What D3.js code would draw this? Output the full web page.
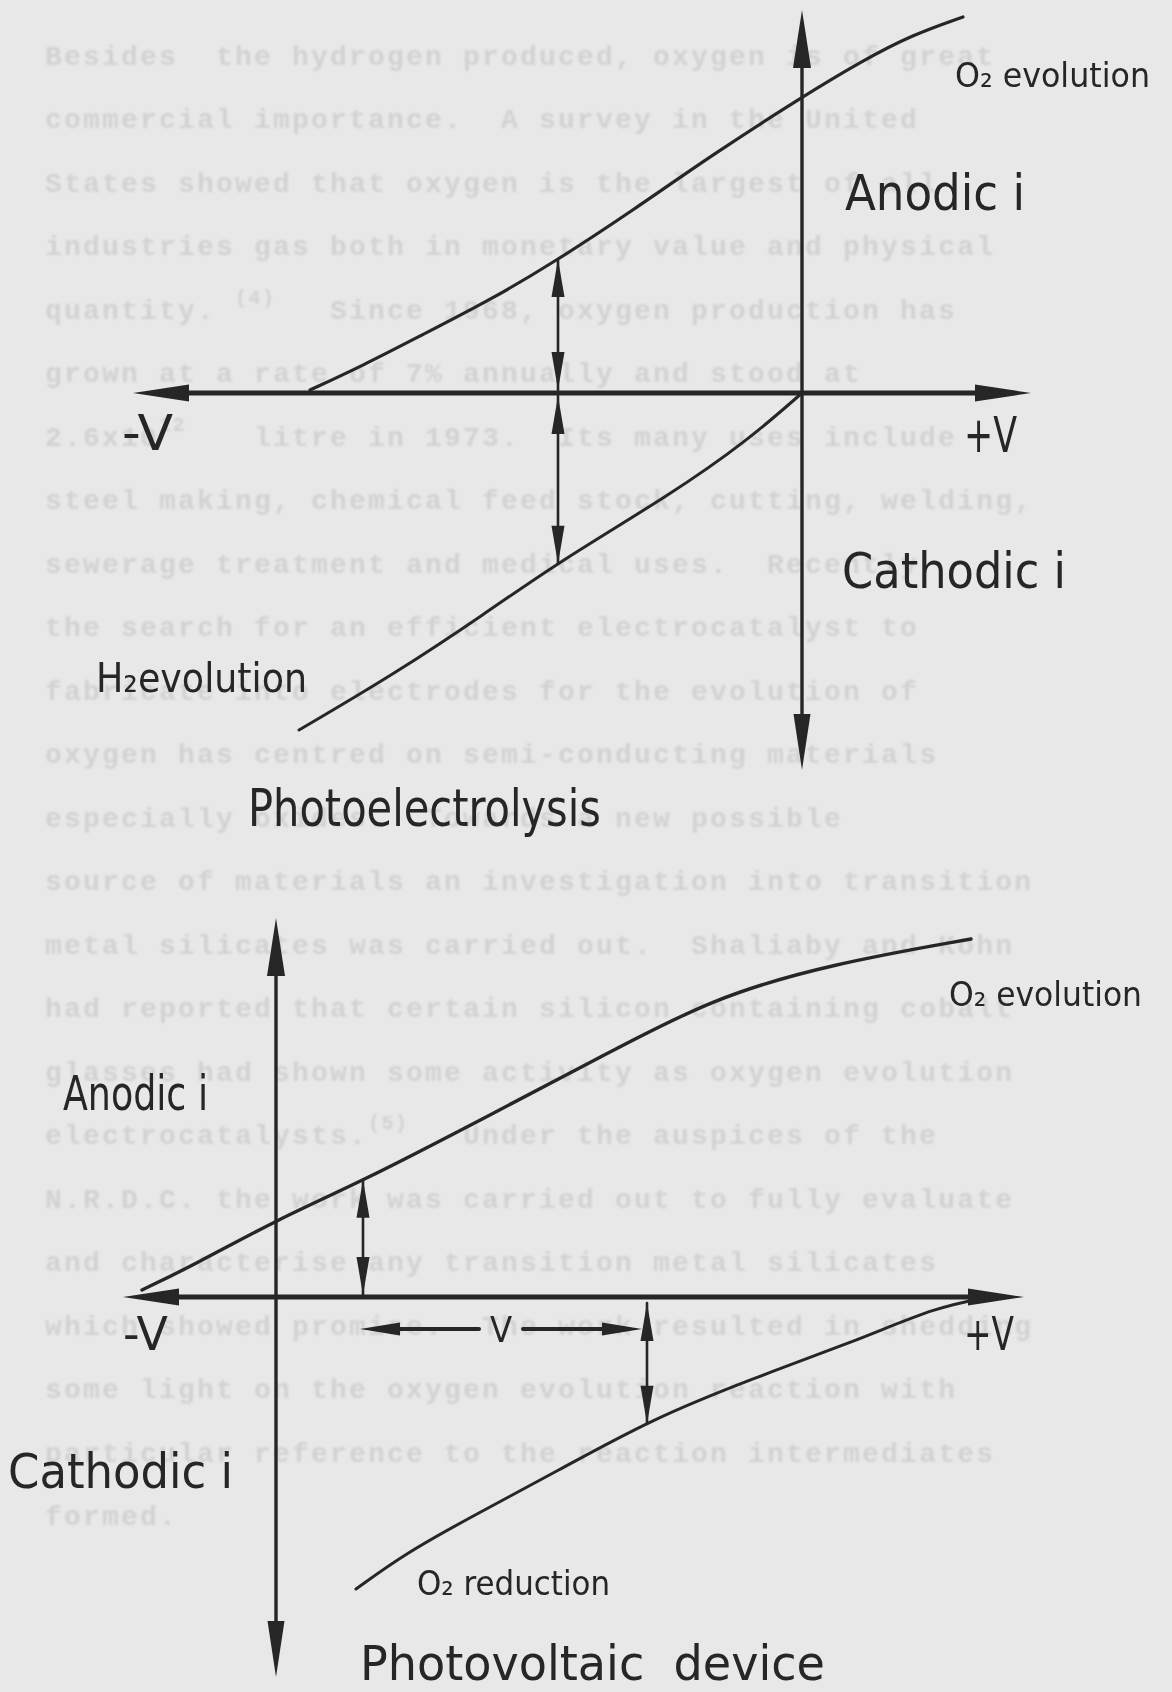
<!DOCTYPE html>
<html><head><meta charset="utf-8">
<script src="https://cdn.jsdelivr.net/npm/d3@7"></script>
<style>
html,body{margin:0;padding:0;background:#e8e8e8;}
svg{display:block;}
</style></head><body>
<svg id="page" width="1172" height="1692"></svg>
<script>
// Schematic current–potential sketches: photoelectrolysis (upper) and a
// photovoltaic device (lower). Potential V and current i in arbitrary units,
// origin where the axes cross.

// Upper sketch: anodic (O2 evolution) and cathodic (H2 evolution) branches
const upperAnodicV   = [-4.92, -4.40, -3.80, -3.10, -2.46, -1.70, -0.90, 0, 0.60, 1.10, 1.61];
const upperAnodicI   = [0.03, 0.27, 0.58, 0.94, 1.32, 1.82, 2.38, 2.96, 3.32, 3.58, 3.76];
const upperCathodicV = [0, -0.55, -1.29, -2.45, -3.16, -4.06, -5.03];
const upperCathodicI = [0, -0.48, -1.00, -1.70, -2.20, -2.80, -3.37];
const upperGapV = -2.44;
const upperVRange = [-6.69, 2.29];
const upperIRange = [-3.77, 3.83];

// Lower sketch: anodic (O2 evolution) and cathodic (O2 reduction) branches
const lowerAnodicV   = [-1.34, -0.82, 0.02, 0.89, 2.10, 3.23, 4.36, 5.55, 6.95];
const lowerAnodicI   = [0.07, 0.32, 0.78, 1.17, 1.80, 2.39, 2.99, 3.33, 3.58];
const lowerCathodicV = [7.14, 6.60, 5.85, 4.75, 3.74, 2.85, 1.95, 1.30, 0.80];
const lowerCathodicI = [0, -0.10, -0.42, -0.82, -1.23, -1.72, -2.20, -2.56, -2.92];
const lowerAnodicGapV = 0.87;
const lowerCathodicGapV = 3.71;
const lowerVArrowI = -0.32;
const lowerVRange = [-1.53, 7.48];
const lowerIRange = [-3.80, 3.79];

// Typescript of the page beneath the sketches; {..} marks a superscript
const typeLines = [
  "Besides  the hydrogen produced, oxygen is of great",
  "commercial importance.  A survey in the United",
  "States showed that oxygen is the largest of all",
  "industries gas both in monetary value and physical",
  "quantity. {(4)}  Since 1968, oxygen production has",
  "grown at a rate of 7% annually and stood at",
  "2.6x10{12}   litre in 1973.  Its many uses include",
  "steel making, chemical feed stock, cutting, welding,",
  "sewerage treatment and medical uses.  Recently",
  "the search for an efficient electrocatalyst to",
  "fabricate into electrodes for the evolution of",
  "oxygen has centred on semi-conducting materials",
  "especially oxides.  Towards a new possible",
  "source of materials an investigation into transition",
  "metal silicates was carried out.  Shaliaby and Kohn",
  "had reported that certain silicon containing cobalt",
  "glasses had shown some activity as oxygen evolution",
  "electrocatalysts.{(5)}  Under the auspices of the",
  "N.R.D.C. the work was carried out to fully evaluate",
  "and characterise any transition metal silicates",
  "which showed promise.  The work resulted in shedding",
  "some light on the oxygen evolution reaction with",
  "particular reference to the reaction intermediates",
  "formed."
];

const ink = "#262626";
const svg = d3.select("#page");
const W = 1172, H = 1692;

svg.append("rect").attr("width", W).attr("height", H).attr("fill", "#e8e8e8");

const defs = svg.append("defs");
defs.append("filter").attr("id", "soft")
  .append("feGaussianBlur").attr("stdDeviation", 0.8);
defs.append("filter").attr("id", "inkSoft")
  .append("feGaussianBlur").attr("stdDeviation", 0.35);

// ---- faint typescript (fixed pitch) ----
const pitch = 19, left0 = 45;
const typeG = svg.append("g").attr("filter", "url(#soft)")
  .attr("font-family", "'Liberation Mono','DejaVu Sans Mono',monospace")
  .attr("font-weight", "bold")
  .attr("fill", "#d2d2d2");
const lineY = d3.scaleLinear().domain([0, typeLines.length - 1]).range([65, 1525]);
typeLines.forEach((ln, k) => {
  const parts = ln.split(/(\{[^}]*\})/).filter(s => s.length);
  let col = 0;
  parts.forEach(p => {
    const sup = p.startsWith("{");
    const s = sup ? p.slice(1, -1) : p;
    typeG.append("text")
      .attr("x", left0 + col * pitch)
      .attr("y", lineY(k) - (sup ? 15 : 0))
      .attr("font-size", sup ? 20 : 28)
      .attr("letter-spacing", sup ? 1.5 : 2.2)
      .attr("xml:space", "preserve")
      .text(s);
    col += s.length;
  });
});

// ---- helpers ----
function arrowHead(g, x, y, angle, len, half) {
  const bx = x - Math.cos(angle) * len, by = y - Math.sin(angle) * len;
  const px = -Math.sin(angle) * half, py = Math.cos(angle) * half;
  g.append("path")
    .attr("d", `M${x},${y}L${bx + px},${by + py}L${bx - px},${by - py}Z`)
    .attr("fill", ink);
}
function segment(g, x1, y1, x2, y2, w) {
  g.append("line").attr("x1", x1).attr("y1", y1).attr("x2", x2).attr("y2", y2)
    .attr("stroke", ink).attr("stroke-width", w).attr("stroke-linecap", "round");
}
// double-headed marker between two current levels at one potential
function gapArrow(g, x, yA, yB) {
  segment(g, x, yA, x, yB, 2.6);
  const dir = yB > yA ? 1 : -1;
  arrowHead(g, x, yA, dir > 0 ? -Math.PI / 2 : Math.PI / 2, 38, 6.5);
  arrowHead(g, x, yB, dir > 0 ? Math.PI / 2 : -Math.PI / 2, 38, 6.5);
}
// current on a drawn branch at potential v, read from the rendered path
function currentAt(path, x, v) {
  const node = path.node(), total = node.getTotalLength();
  const px = x(v);
  let lo = 0, hi = total;
  const p0 = node.getPointAtLength(0), p1 = node.getPointAtLength(total);
  const inc = p1.x > p0.x;
  for (let k = 0; k < 40; k++) {
    const mid = (lo + hi) / 2, p = node.getPointAtLength(mid);
    if ((p.x < px) === inc) lo = mid; else hi = mid;
  }
  return node.getPointAtLength((lo + hi) / 2).y;
}
function axes(g, x, y, vRange, iRange) {
  const x0 = x(0), y0 = y(0);
  // potential axis
  segment(g, x(vRange[0]) + 40, y0, x(vRange[1]) - 40, y0, 5);
  arrowHead(g, x(vRange[0]), y0, Math.PI, 56, 8.5);
  arrowHead(g, x(vRange[1]), y0, 0, 56, 8.5);
  // current axis
  segment(g, x0, y(iRange[1]) + 40, x0, y(iRange[0]) - 40, 3.4);
  arrowHead(g, x0, y(iRange[1]), -Math.PI / 2, 58, 9);
  arrowHead(g, x0, y(iRange[0]), Math.PI / 2, 56, 8.5);
}
function curve(g, x, y, vs, is, w) {
  const line = d3.line().x(d => x(d[0])).y(d => y(d[1])).curve(d3.curveBasis);
  return g.append("path").datum(vs.map((v, k) => [v, is[k]]))
    .attr("d", line).attr("fill", "none").attr("stroke", ink)
    .attr("stroke-width", w).attr("stroke-linecap", "round");
}
const labelFont = "'DejaVu Sans Condensed','Liberation Sans Narrow','DejaVu Sans',sans-serif";
function label(g, txt, x, y, size, len) {
  g.append("text").attr("x", x).attr("y", y)
    .attr("font-family", labelFont).attr("font-size", size)
    .attr("fill", ink).attr("xml:space", "preserve")
    .attr("textLength", len).attr("lengthAdjust", "spacingAndGlyphs")
    .text(txt);
}

const drawG = svg.append("g").attr("filter", "url(#inkSoft)");

// ---- upper sketch: photoelectrolysis ----
{
  const x = d3.scaleLinear().domain(upperVRange).range([133, 1031]);
  const y = d3.scaleLinear().domain(upperIRange).range([770, 10]);
  const g = drawG.append("g");
  axes(g, x, y, upperVRange, upperIRange);
  const an = curve(g, x, y, upperAnodicV, upperAnodicI, 3.2);
  const ca = curve(g, x, y, upperCathodicV, upperCathodicI, 3.0);
  const gx = x(upperGapV);
  gapArrow(g, gx, currentAt(an, x, upperGapV), y(0) - 3);
  gapArrow(g, gx, y(0) + 3, currentAt(ca, x, upperGapV));

  label(g, "O\u2082 evolution", 955, 87, 34, 195);
  label(g, "Anodic i", 845, 210, 50, 180);
  label(g, "-V", 122, 450, 50, 51);
  label(g, "+V", 964, 452, 50, 53);
  label(g, "Cathodic i", 842, 588, 50, 224);
  label(g, "H\u2082evolution", 96, 692, 40, 211);
  label(g, "Photoelectrolysis", 248, 826, 52, 353);
}

// ---- lower sketch: photovoltaic device ----
{
  const x = d3.scaleLinear().domain(lowerVRange).range([123, 1024]);
  const y = d3.scaleLinear().domain(lowerIRange).range([1677, 918]);
  const g = drawG.append("g");
  axes(g, x, y, lowerVRange, lowerIRange);
  const an = curve(g, x, y, lowerAnodicV, lowerAnodicI, 3.4);
  const ca = curve(g, x, y, lowerCathodicV, lowerCathodicI, 3.0);

  const ax = x(lowerAnodicGapV);
  gapArrow(g, ax, currentAt(an, x, lowerAnodicGapV), y(0) - 2);
  const cx = x(lowerCathodicGapV);
  gapArrow(g, cx, y(0) + 6, currentAt(ca, x, lowerCathodicGapV));

  // photovoltage span between the two markers
  const vy = y(lowerVArrowI);
  const left = x(lowerAnodicGapV) - 3, right = x(lowerCathodicGapV) - 5;
  const mid = (left + right) / 2;
  segment(g, left + 30, vy, mid - 22, vy, 4);
  segment(g, mid + 22, vy, right - 30, vy, 4);
  arrowHead(g, left, vy, Math.PI, 40, 6.5);
  arrowHead(g, right, vy, 0, 40, 6.5);
  g.append("text").attr("x", mid).attr("y", vy + 13)
    .attr("text-anchor", "middle").attr("font-family", labelFont)
    .attr("font-size", 36).attr("fill", ink).text("V");

  label(g, "O\u2082 evolution", 949, 1006, 34, 193);
  label(g, "Anodic i", 63, 1110, 48, 145);
  label(g, "-V", 123, 1350, 46, 45);
  label(g, "+V", 964, 1350, 46, 50);
  label(g, "Cathodic i", 8, 1488, 48, 225);
  label(g, "O\u2082 reduction", 417, 1595, 34, 193);
  label(g, "Photovoltaic  device", 360, 1680, 48, 465);
}
</script>
</body></html>
